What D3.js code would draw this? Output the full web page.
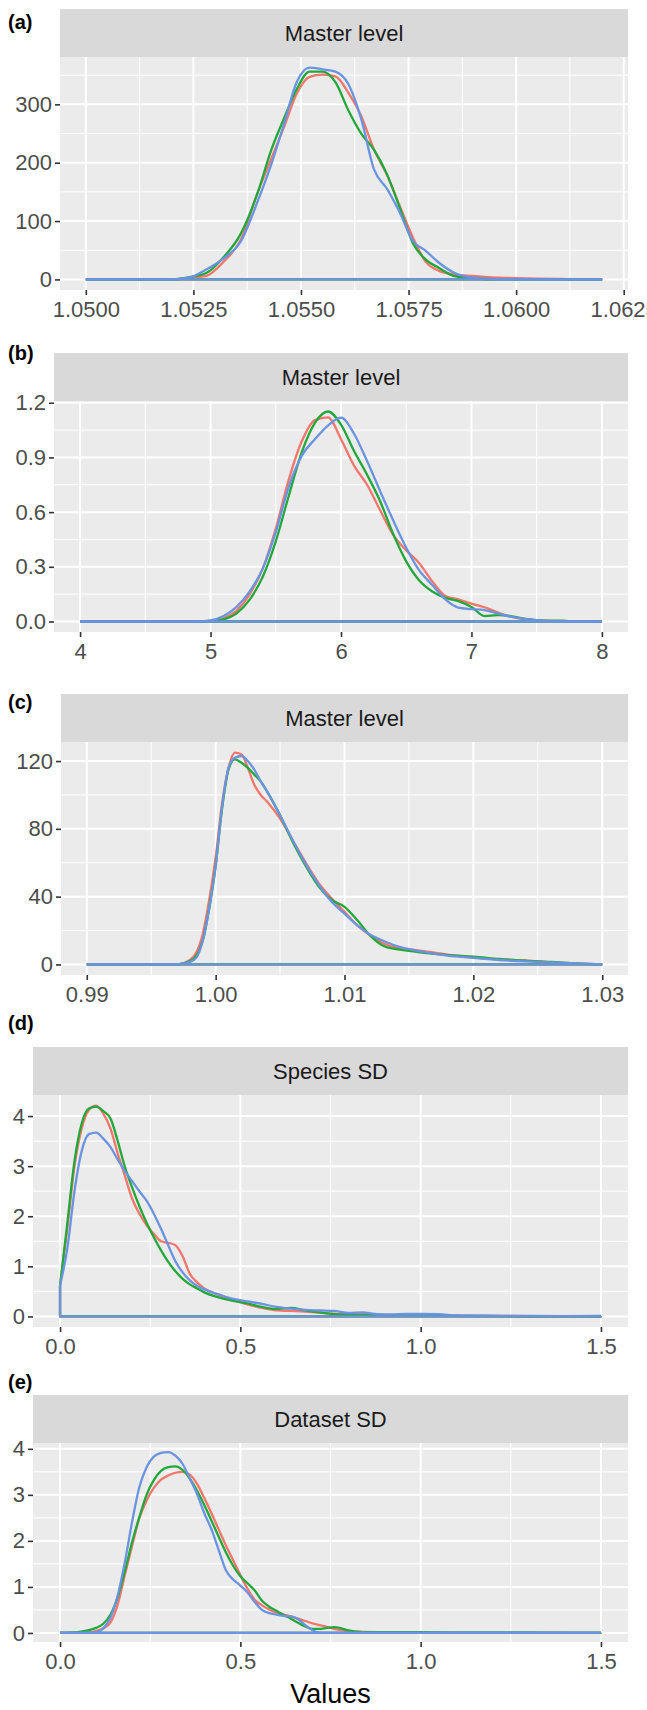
<!DOCTYPE html>
<html>
<head>
<meta charset="utf-8">
<script src="https://cdn.jsdelivr.net/npm/d3@7"></script>
<style>
  body { margin: 0; background: #ffffff; }
  svg { display: block; }
  text { font-family: "Liberation Sans", Arial, Helvetica, sans-serif; }
</style>
</head>
<body>
<svg id="fig" width="647" height="1710"></svg>
<script>
// ---- series (three chains, drawn red, green, blue) ----
const seriesNames = ["chain 1", "chain 2", "chain 3"];
const seriesColors = ["#F2766B", "#22A83A", "#6A93E0"];

// ---- (a) Master level ----
const aX     = [1.0500, 1.0520, 1.0524, 1.0528, 1.0532, 1.0536, 1.0540, 1.0543, 1.0546, 1.0549, 1.0552, 1.0555, 1.0558, 1.0561, 1.0564, 1.0567, 1.0570, 1.0573, 1.0576, 1.0579, 1.0582, 1.0586, 1.0590, 1.0596, 1.0620];
const aRed   = [0, 0, 2, 6, 30, 68, 150, 205, 260, 318, 347, 351, 348, 320, 280, 222, 179, 125, 72, 30, 15, 8, 6, 3, 0];
const aGreen = [0, 0, 4, 11, 38, 78, 150, 220, 275, 326, 356, 356, 338, 290, 250, 222, 180, 122, 62, 34, 20, 5, 2, 0, 0];
const aBlue  = [0, 0, 3, 17, 36, 65, 135, 195, 265, 338, 363, 360, 356, 335, 275, 188, 155, 114, 66, 49, 29, 10, 3, 0, 0];
const aXTicks = [1.0500, 1.0525, 1.0550, 1.0575, 1.0600, 1.0625];
const aYTicks = [0, 100, 200, 300];

// ---- (b) Master level ----
const bX     = [4.0, 4.9, 5.0, 5.1, 5.2, 5.3, 5.4, 5.5, 5.6, 5.7, 5.8, 5.9, 6.0, 6.1, 6.2, 6.3, 6.4, 6.5, 6.6, 6.7, 6.8, 6.9, 7.0, 7.1, 7.2, 7.3, 7.4, 7.5, 7.6, 7.7, 7.8, 8.0];
const bRed   = [0, 0, 0.004, 0.018, 0.06, 0.15, 0.29, 0.51, 0.78, 0.99, 1.105, 1.12, 1.00, 0.855, 0.75, 0.61, 0.475, 0.39, 0.32, 0.22, 0.14, 0.121, 0.098, 0.078, 0.05, 0.026, 0.013, 0.007, 0.003, 0.001, 0, 0];
const bGreen = [0, 0, 0.002, 0.012, 0.045, 0.12, 0.245, 0.44, 0.69, 0.93, 1.09, 1.152, 1.08, 0.935, 0.805, 0.66, 0.48, 0.33, 0.225, 0.165, 0.13, 0.112, 0.08, 0.03, 0.035, 0.03, 0.016, 0.008, 0.005, 0.004, 0.001, 0];
const bBlue  = [0, 0, 0.006, 0.03, 0.08, 0.165, 0.29, 0.49, 0.74, 0.91, 1.00, 1.075, 1.118, 1.03, 0.88, 0.715, 0.555, 0.405, 0.28, 0.20, 0.121, 0.076, 0.068, 0.062, 0.045, 0.027, 0.015, 0.007, 0.002, 0, 0, 0];
const bXTicks = [4, 5, 6, 7, 8];
const bYTicks = [0, 0.3, 0.6, 0.9, 1.2];

// ---- (c) Master level ----
const cX     = [0.990, 0.997, 0.998, 0.9985, 0.999, 0.9995, 1.000, 1.0005, 1.001, 1.0015, 1.002, 1.0025, 1.003, 1.0035, 1.004, 1.005, 1.006, 1.007, 1.008, 1.009, 1.010, 1.011, 1.012, 1.013, 1.014, 1.015, 1.016, 1.018, 1.020, 1.022, 1.024, 1.026, 1.028, 1.030];
const cRed   = [0, 0, 2.6, 7, 18, 38, 63, 95, 116, 125, 124, 116, 106, 100, 96, 86, 73, 60, 48, 39, 31, 23, 17, 12.5, 10, 9, 8, 5.8, 4.2, 3, 2.4, 1.2, 0.4, 0];
const cGreen = [0, 0, 2, 5, 14, 33, 58, 92, 115, 121, 119, 116, 112, 108, 102, 88, 72, 58, 46, 38, 34, 26, 17, 11, 9, 8, 7, 5.5, 4.6, 3.2, 2.2, 1.5, 0.6, 0];
const cBlue  = [0, 0, 1.5, 4, 14, 33, 58, 93, 116, 122, 123, 120, 115, 108, 102, 88, 73, 59, 47, 37, 30, 23, 17.5, 14, 11, 9, 7.5, 5.2, 3.8, 2.6, 1.8, 1.2, 0.6, 0];
const cXTicks = [0.99, 1.00, 1.01, 1.02, 1.03];
const cYTicks = [0, 40, 80, 120];

// ---- (d) Species SD ----
const dX     = [0, 0.02, 0.04, 0.06, 0.08, 0.10, 0.12, 0.14, 0.16, 0.18, 0.20, 0.22, 0.24, 0.26, 0.28, 0.30, 0.32, 0.34, 0.36, 0.38, 0.40, 0.44, 0.48, 0.52, 0.56, 0.60, 0.64, 0.68, 0.72, 0.76, 0.80, 0.84, 0.88, 0.92, 0.96, 1.00, 1.05, 1.10, 1.2, 1.3, 1.4, 1.5];
const dRed   = [0.62, 1.75, 3.0, 3.75, 4.12, 4.21, 4.05, 3.75, 3.25, 2.8, 2.35, 2.05, 1.82, 1.65, 1.5, 1.47, 1.42, 1.2, 0.85, 0.68, 0.56, 0.43, 0.33, 0.24, 0.17, 0.12, 0.11, 0.095, 0.075, 0.055, 0.045, 0.04, 0.035, 0.03, 0.028, 0.025, 0.02, 0.015, 0.01, 0.008, 0.006, 0.005];
const dGreen = [0.62, 1.85, 3.1, 3.85, 4.15, 4.19, 4.1, 3.95, 3.5, 2.98, 2.57, 2.2, 1.87, 1.58, 1.32, 1.09, 0.9, 0.75, 0.64, 0.56, 0.48, 0.38, 0.31, 0.26, 0.19, 0.15, 0.17, 0.12, 0.08, 0.045, 0.035, 0.03, 0.025, 0.02, 0.02, 0.018, 0.015, 0.01, 0.006, 0.004, 0.003, 0.002];
const dBlue  = [0.62, 1.35, 2.5, 3.3, 3.64, 3.67, 3.55, 3.38, 3.13, 2.9, 2.7, 2.5, 2.31, 2.05, 1.75, 1.42, 1.1, 0.88, 0.72, 0.61, 0.54, 0.44, 0.35, 0.3, 0.25, 0.19, 0.155, 0.13, 0.12, 0.11, 0.07, 0.08, 0.045, 0.04, 0.05, 0.05, 0.045, 0.02, 0.015, 0.01, 0.008, 0.01];
const dXTicks = [0, 0.5, 1.0, 1.5];
const dYTicks = [0, 1, 2, 3, 4];

// ---- (e) Dataset SD ----
const eX     = [0, 0.05, 0.08, 0.10, 0.12, 0.14, 0.16, 0.18, 0.20, 0.22, 0.24, 0.26, 0.28, 0.30, 0.32, 0.34, 0.36, 0.38, 0.40, 0.42, 0.44, 0.46, 0.48, 0.50, 0.52, 0.54, 0.56, 0.58, 0.60, 0.62, 0.64, 0.66, 0.68, 0.70, 0.72, 0.74, 0.76, 0.78, 0.80, 0.84, 0.88, 0.92, 1.0, 1.1, 1.2, 1.3, 1.4, 1.5];
const eRed   = [0, 0, 0.01, 0.04, 0.1, 0.23, 0.62, 1.27, 1.9, 2.5, 2.88, 3.15, 3.33, 3.42, 3.48, 3.5, 3.44, 3.24, 2.93, 2.6, 2.25, 1.9, 1.58, 1.26, 0.96, 0.72, 0.6, 0.51, 0.44, 0.4, 0.36, 0.31, 0.26, 0.21, 0.17, 0.13, 0.09, 0.06, 0.04, 0.025, 0.015, 0.01, 0.005, 0.003, 0.002, 0.001, 0.001, 0];
const eGreen = [0, 0.02, 0.06, 0.11, 0.2, 0.4, 0.78, 1.35, 1.98, 2.52, 3.0, 3.32, 3.52, 3.6, 3.62, 3.54, 3.35, 3.09, 2.78, 2.44, 2.09, 1.75, 1.46, 1.23, 1.08, 0.92, 0.7, 0.57, 0.48, 0.39, 0.31, 0.22, 0.14, 0.09, 0.09, 0.11, 0.125, 0.1, 0.055, 0.02, 0.02, 0.02, 0.015, 0.008, 0.006, 0.004, 0.003, 0.002];
const eBlue  = [0, 0, 0, 0.01, 0.1, 0.34, 0.82, 1.55, 2.42, 3.17, 3.6, 3.83, 3.91, 3.93, 3.85, 3.67, 3.35, 3.02, 2.6, 2.25, 1.8, 1.36, 1.16, 1.03, 0.88, 0.67, 0.5, 0.43, 0.4, 0.37, 0.36, 0.3, 0.17, 0.06, 0.005, 0, 0, 0, 0, 0, 0, 0, 0, 0, 0, 0, 0, 0];
const eXTicks = [0, 0.5, 1.0, 1.5];
const eYTicks = [0, 1, 2, 3, 4];

// ---- facet labels and tags ----
const tags = ["(a)", "(b)", "(c)", "(d)", "(e)"];
const stripTitles = ["Master level", "Master level", "Master level", "Species SD", "Dataset SD"];
const xAxisTitle = "Values";

const panels = [
  { x: aX, ys: [aRed, aGreen, aBlue], xt: aXTicks, yt: aYTicks, xf: d3.format(".4f"), yf: d3.format("d") },
  { x: bX, ys: [bRed, bGreen, bBlue], xt: bXTicks, yt: bYTicks, xf: d3.format("d"),   yf: d3.format(".1f") },
  { x: cX, ys: [cRed, cGreen, cBlue], xt: cXTicks, yt: cYTicks, xf: d3.format(".2f"), yf: d3.format("d") },
  { x: dX, ys: [dRed, dGreen, dBlue], xt: dXTicks, yt: dYTicks, xf: d3.format(".1f"), yf: d3.format("d") },
  { x: eX, ys: [eRed, eGreen, eBlue], xt: eXTicks, yt: eYTicks, xf: d3.format(".1f"), yf: d3.format("d") }
];

// ---- page geometry for the stacked facets ----
const frames = [
  { top: 9,    left: 60, bottom: 290,  tagY: 29 },
  { top: 353,  left: 54, bottom: 632,  tagY: 360 },
  { top: 694,  left: 61, bottom: 975,  tagY: 709 },
  { top: 1047, left: 33, bottom: 1327, tagY: 1030 },
  { top: 1395, left: 33, bottom: 1642, tagY: 1389 }
];
const RIGHT = 628, STRIP_H = 48;

const svg = d3.select("#fig");

// ggplot-style 5% expansion on both scales
function expand(lo, hi) { const p = (hi - lo) * 0.05; return [lo - p, hi + p]; }

panels.forEach((p, i) => {
  const f = frames[i];
  const pTop = f.top + STRIP_H;
  const xs = p.x;
  const ymax = d3.max(p.ys, s => d3.max(s));
  const x = d3.scaleLinear().domain(expand(xs[0], xs[xs.length - 1])).range([f.left, RIGHT]);
  const y = d3.scaleLinear().domain(expand(0, ymax)).range([f.bottom, pTop]);

  const g = svg.append("g");

  // strip
  g.append("rect").attr("x", f.left).attr("y", f.top).attr("width", RIGHT - f.left).attr("height", STRIP_H)
    .attr("fill", "#D9D9D9");
  g.append("text").attr("x", (f.left + RIGHT) / 2).attr("y", f.top + STRIP_H / 2 + 8)
    .attr("text-anchor", "middle").attr("font-size", 22).attr("fill", "#1A1A1A").text(stripTitles[i]);

  // panel background
  g.append("rect").attr("x", f.left).attr("y", pTop).attr("width", RIGHT - f.left).attr("height", f.bottom - pTop)
    .attr("fill", "#EBEBEB");

  // minor grid: midpoints between major breaks
  const xStep = p.xt[1] - p.xt[0], yStep = p.yt[1] - p.yt[0];
  const [xd0, xd1] = x.domain(), [yd0, yd1] = y.domain();
  const xMinor = d3.range(p.xt[0] - xStep / 2, xd1, xStep).filter(v => v > xd0 && v < xd1);
  const yMinor = d3.range(p.yt[0] - yStep / 2, yd1, yStep).filter(v => v > yd0 && v < yd1);
  const grid = g.append("g").attr("stroke", "#FFFFFF");
  grid.selectAll(".xmin").data(xMinor).join("line")
    .attr("x1", d => x(d)).attr("x2", d => x(d)).attr("y1", pTop).attr("y2", f.bottom).attr("stroke-width", 1);
  grid.selectAll(".ymin").data(yMinor).join("line")
    .attr("y1", d => y(d)).attr("y2", d => y(d)).attr("x1", f.left).attr("x2", RIGHT).attr("stroke-width", 1);
  grid.selectAll(".xmaj").data(p.xt.filter(v => v >= xd0 && v <= xd1)).join("line")
    .attr("x1", d => x(d)).attr("x2", d => x(d)).attr("y1", pTop).attr("y2", f.bottom).attr("stroke-width", 2);
  grid.selectAll(".ymaj").data(p.yt).join("line")
    .attr("y1", d => y(d)).attr("y2", d => y(d)).attr("x1", f.left).attr("x2", RIGHT).attr("stroke-width", 2);

  // axes
  const xAxis = d3.axisBottom(x).tickValues(p.xt.filter(v => v >= xd0 && v <= xd1)).tickFormat(p.xf)
    .tickSizeInner(5).tickSizeOuter(0).tickPadding(6);
  const ax = g.append("g").attr("transform", `translate(0,${f.bottom})`).call(xAxis);
  const yAxis = d3.axisLeft(y).tickValues(p.yt).tickFormat(p.yf).tickSizeInner(5).tickSizeOuter(0).tickPadding(3);
  const ay = g.append("g").attr("transform", `translate(${f.left},0)`).call(yAxis);
  [ax, ay].forEach(a => {
    a.select(".domain").remove();
    a.selectAll(".tick line").attr("stroke", "#333333").attr("stroke-width", 1.6);
    a.selectAll(".tick text").attr("font-size", 22).attr("fill", "#4D4D4D")
      .attr("font-family", "'Liberation Sans', Arial, Helvetica, sans-serif");
  });
  ax.selectAll(".tick text").attr("dy", "0.71em");

  // density outlines: curve plus closing baseline, drawn in series order
  const line = d3.line().x(d => x(d[0])).y(d => y(d[1])).curve(d3.curveMonotoneX);
  p.ys.forEach((ys, k) => {
    const pts = xs.map((v, j) => [v, ys[j]]);
    const col = seriesColors[k];
    const s = g.append("g").attr("class", "series").attr("data-name", seriesNames[k]);
    s.append("path").attr("d", line(pts)).attr("fill", "none").attr("stroke", col)
      .attr("stroke-width", 2.3).attr("stroke-linejoin", "round");
    const x0 = xs[0], x1 = xs[xs.length - 1];
    s.append("path")
      .attr("d", d3.line()([[x(x0), y(ys[0])], [x(x0), y(0)], [x(x1), y(0)], [x(x1), y(ys[ys.length - 1])]]))
      .attr("fill", "none").attr("stroke", col).attr("stroke-width", 2.3).attr("stroke-linejoin", "round");
  });

  // panel tag
  svg.append("text").attr("x", 8).attr("y", f.tagY).attr("font-size", 20).attr("font-weight", "bold")
    .attr("fill", "#000").text(tags[i]);
});

// shared x-axis title under the last panel
svg.append("text").attr("x", (frames[4].left + RIGHT) / 2).attr("y", 1703)
  .attr("text-anchor", "middle").attr("font-size", 27).attr("fill", "#000").text(xAxisTitle);
</script>
</body>
</html>
